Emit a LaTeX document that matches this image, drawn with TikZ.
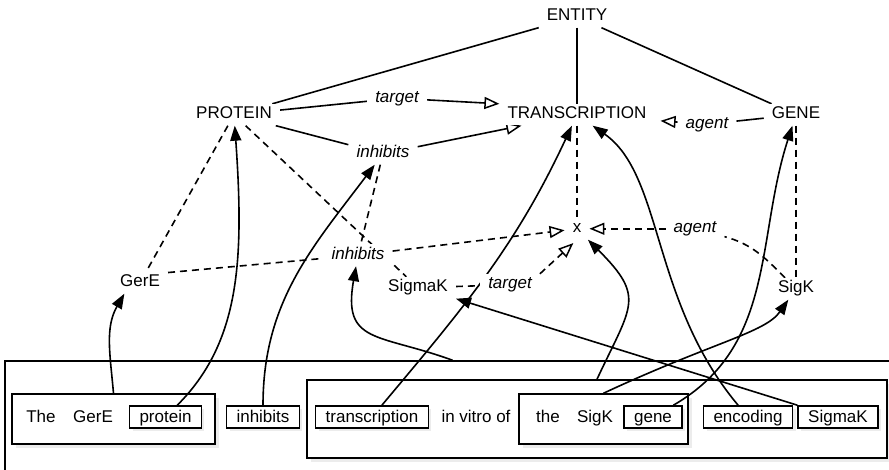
\documentclass[tikz,border=0pt]{standalone}
\usepackage{fontspec}
\setmainfont{Liberation Sans}
\usetikzlibrary{arrows.meta,backgrounds,shadows}

\begin{document}
\begin{tikzpicture}[x=1pt,y=1pt,
  font=\fontsize{17}{20}\selectfont,
  concept/.style={fill=white,text height=12pt,text depth=3.5pt,inner xsep=8pt,inner ysep=3pt,anchor=base},
  relname/.style={concept,font=\fontsize{17}{20}\selectfont\itshape},
  word/.style={draw,fill=white,line width=1.5pt,text height=12pt,text depth=0pt,inner xsep=10pt,inner ysep=5pt,
    drop shadow={opacity=0.15,shadow xshift=3pt,shadow yshift=-3pt}},
  plainword/.style={text height=12pt,text depth=0pt,inner sep=0pt},
  frame/.style={draw,fill=white,line width=1.5pt,inner sep=0pt,
    drop shadow={opacity=0.15,shadow xshift=4pt,shadow yshift=-4pt}},
  link/.style={line width=1.6pt},
  inst/.style={dash pattern=on 7pt off 5pt},
  rel/.style={-{Triangle[open,length=15pt,width=12pt,line width=1.5pt]}},
  wordlink/.style={-{Triangle[length=15pt,width=11pt]}}]
\useasboundingbox (0,0) rectangle (889,470);

% types
\node[concept] (entity) at (577,449) {ENTITY};
\node[concept] (protein) at (234,351) {PROTEIN};
\node[concept] (trans) at (577,351) {TRANSCRIPTION};
\node[concept] (gene) at (796,351) {GENE};
\node[relname] (tgtA) at (397,367.5) {target};
\node[relname] (inhA) at (383,312) {inhibits};
\node[relname] (agtA) at (707,341.5) {agent};

% instances
\node[concept] (xev) at (577,237) {x};
\node[relname] (agtB) at (695,237) {agent};
\node[relname] (inhB) at (358,210.5) {inhibits};
\node[concept] (gere) at (140,183) {GerE};
\node[concept] (sigmak) at (418,178) {SigmaK};
\node[relname] (tgtB) at (510,181) {target};
\node[concept] (sigk) at (796,177) {SigK};

% sentence
\node[plainword] (wThe) at (41,53) {The};
\node[plainword] (wGerE) at (93,53) {GerE};
\node[word] (wProtein) at (165.5,53) {protein};
\node[word] (wInhibits) at (263,53) {inhibits};
\node[word] (wTranscription) at (372,53) {transcription};
\node[plainword] (wVitro) at (476,53) {in vitro of};
\node[plainword] (wThe2) at (548,53) {the};
\node[plainword] (wSigK) at (595,53) {SigK};
\node[word] (wGene) at (653,53) {gene};
\node[word] (wEncoding) at (748,53) {encoding};
\node[word] (wSigmaK) at (838,53) {SigmaK};

\begin{scope}[on background layer]
\node[frame,minimum width=895,minimum height=125] (sentence) at (452.5,46.5) {};
\node[frame,minimum width=203,minimum height=50] (grpGerE) at (113.5,51) {};
\node[frame,minimum width=580,minimum height=78] (grpTrans) at (597,51) {};
\node[frame,minimum width=169,minimum height=50] (grpSigK) at (603.5,51) {};

\draw[link] (entity) -- (protein);
\draw[link] (entity) -- (trans);
\draw[link] (entity) -- (gene);

\draw[link] (protein) -- (tgtA);
\draw[link,rel] (tgtA) -- (trans.north west);
\draw[link] (protein) -- (inhA);
\draw[link,rel] (inhA) -- ([xshift=22pt]trans.south west);
\draw[link] (gene) -- (agtA);
\draw[link,rel,shorten >=6pt] (agtA) -- (trans);

\draw[link,inst] (protein) -- (gere);
\draw[link,inst] (protein) -- (sigmak);
\draw[link,inst] (inhA) -- (inhB);
\draw[link,inst] (trans) -- (xev);
\draw[link,inst] (gene) -- (sigk);
\draw[link,inst] (gere.20) -- (inhB);
\draw[link,inst,rel] (inhB) -- (xev);
\draw[link,inst] (sigmak) -- (tgtB);
\draw[link,inst,rel,shorten >=5pt] (tgtB.north east) -- (xev.south);
\draw[link,inst] (sigk) to[out=135,in=-15] (agtB);
\draw[link,inst,rel] (agtB) -- (xev);

\draw[link,wordlink] (grpGerE.north) to[out=95,in=-120] (gere.215);
\draw[link,wordlink] (wProtein) to[out=45,in=-86,out looseness=0.8,in looseness=1.2] (protein);
\draw[link,wordlink] (wInhibits) to[out=90,in=-127] (inhA);
\draw[link,wordlink] (sentence.north) to[out=160,in=-100,looseness=1.5] (inhB);
\draw[link,wordlink] (wTranscription) to[out=50,in=-115] (trans);
\draw[link,wordlink] (grpTrans.north) to[out=65,in=-45,looseness=1.5] (xev);
\draw[link,wordlink] (grpSigK.north) to[out=25,in=-125,out looseness=1.5,in looseness=0.5] (sigk);
\draw[link,wordlink] (wGene) to[out=30,in=-108] (gene);
\draw[link,wordlink] (wEncoding) to[out=130,in=-35,out looseness=1.1,in looseness=0.7] (trans);
\draw[link,wordlink] (wSigmaK.north west) -- (sigmak.south east);
\end{scope}
\end{tikzpicture}
\end{document}
